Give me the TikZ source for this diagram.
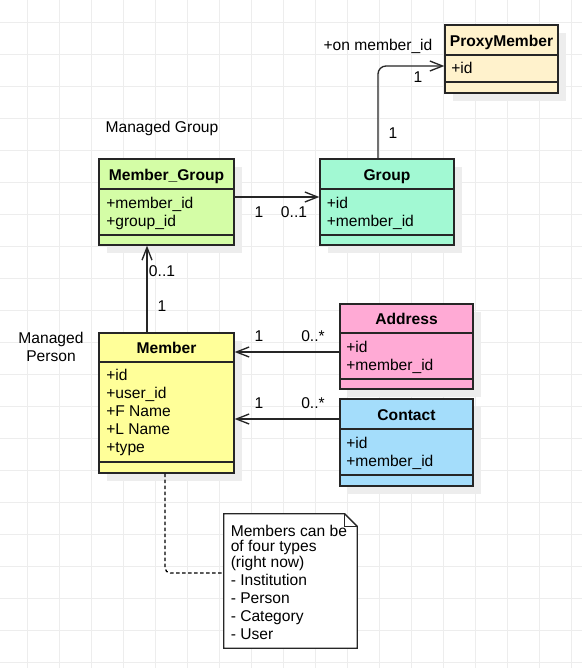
\documentclass[tikz,border=0pt]{standalone}
\usepackage{fontspec}
\setmainfont{Liberation Sans}
\usetikzlibrary{positioning,fit,arrows.meta,shadows}

\definecolor{proxycol}{HTML}{FFF2CC}
\definecolor{groupcol}{HTML}{A2F9D3}
\definecolor{mgroupcol}{HTML}{D4FDA6}
\definecolor{membercol}{HTML}{FFFF99}
\definecolor{addrcol}{HTML}{FFAAD5}
\definecolor{contactcol}{HTML}{A4DDFB}
\definecolor{gridcol}{HTML}{EDEDED}

\begin{document}
\begin{tikzpicture}[x=0.75pt, y=-0.75pt, font=\fontsize{11.7}{13.5}\selectfont,
  cls/.style={draw=black!85,line width=1pt,inner sep=0pt,drop shadow={shadow xshift=6pt,shadow yshift=-6pt,fill=black!7,opacity=1}},
  sep/.style={draw=black!85,line width=1pt},
  title/.style={anchor=base,inner sep=0pt,font=\fontsize{11.7}{13.5}\selectfont\bfseries},
  attrs/.style={anchor=north west,align=left,inner sep=0pt},
  lbl/.style={anchor=base,inner sep=0pt},
  assoc/.style={draw=black!85,line width=1pt,-{Straight Barb[length=9.5pt,width=7.5pt]}},
  gridline/.style={draw=gridcol,line width=0.75pt}]
              \useasboundingbox (0,0) rectangle (582,668);
              \fill[white] (0,0) rectangle (582,668);
              \foreach \x in {27,59,...,571} \draw[gridline] (\x,0) -- (\x,668);
              \foreach \y in {22,54,...,662} \draw[gridline] (0,\y) -- (582,\y);

              % classes
              \node[cls,fill=proxycol,fit={(445,25) (558,93)}] (proxy) {};
              \draw[sep] (proxy.west |- 0,55) -- (proxy.east |- 0,55);
              \draw[sep] (proxy.west |- 0,82) -- (proxy.east |- 0,82);
              \node[title] (proxyT) at (501.5,46) {ProxyMember};
              \node[attrs] (proxyA) at (451,61) {\strut+id};

              \node[cls,fill=groupcol,fit={(320,159) (454,245)}] (group) {};
              \draw[sep] (group.west |- 0,189) -- (group.east |- 0,189);
              \draw[sep] (group.west |- 0,235) -- (group.east |- 0,235);
              \node[title] (groupT) at (387,180.5) {Group};
              \node[attrs] (groupA) at (326.5,195.5) {\strut+id\\+member\_id};

              \node[cls,fill=mgroupcol,fit={(99,159) (234,245)}] (mgroup) {};
              \draw[sep] (mgroup.west |- 0,189) -- (mgroup.east |- 0,189);
              \draw[sep] (mgroup.west |- 0,235) -- (mgroup.east |- 0,235);
              \node[title] (mgroupT) at (166.5,180.5) {Member\_Group};
              \node[attrs] (mgroupA) at (106,196) {\strut+member\_id\\+group\_id};

              \node[cls,fill=membercol,fit={(99,333) (234,473)}] (member) {};
              \draw[sep] (member.west |- 0,362) -- (member.east |- 0,362);
              \draw[sep] (member.west |- 0,462) -- (member.east |- 0,462);
              \node[title] (memberT) at (166.5,353) {Member};
              \node[attrs] (memberA) at (106,368) {\strut+id\\+user\_id\\+F Name\\+L Name\\+type};

              \node[cls,fill=addrcol,fit={(340,304) (473,389)}] (address) {};
              \draw[sep] (address.west |- 0,333) -- (address.east |- 0,333);
              \draw[sep] (address.west |- 0,379) -- (address.east |- 0,379);
              \node[title] (addressT) at (406.5,324.5) {Address};
              \node[attrs] (addressA) at (346,339.5) {\strut+id\\+member\_id};

              \node[cls,fill=contactcol,fit={(340,399) (473,486)}] (contact) {};
              \draw[sep] (contact.west |- 0,429) -- (contact.east |- 0,429);
              \draw[sep] (contact.west |- 0,475) -- (contact.east |- 0,475);
              \node[title] (contactT) at (406.5,420.5) {Contact};
              \node[attrs] (contactA) at (346,435.5) {\strut+id\\+member\_id};

              % note
              \node[fit={(224,514) (357,648)},inner sep=0pt] (note) {};
              \draw[sep,fill=white] (note.north west) -- ([xshift=-9.5pt]note.north east) -- ([yshift=-9.5pt]note.north east) -- (note.south east) -- (note.south west) -- cycle;
              \draw[sep] ([xshift=-9.5pt]note.north east) -- ([xshift=-9.5pt,yshift=-9.5pt]note.north east) -- ([yshift=-9.5pt]note.north east);
              \node[attrs,font={\fontsize{11.7}{11.5}\selectfont\lineskiplimit=-5pt\relax}] (noteT) at (230.5,525) {\strut Members can be\\of four types\\(right now)\\[2pt]- Institution\\[2pt]- Person\\[2pt]- Category\\[2pt]- User};

              % connectors
              \coordinate (gp) at (378,66);
              \draw[assoc,rounded corners=6pt] (group.north -| gp) |- (proxy.west |- gp);
              \draw[assoc] (mgroup.east |- 0,197) -- (group.west |- 0,197);
              \draw[assoc] (member.north -| 147,0) -- (mgroup.south -| 147,0);
              \draw[assoc] (address.west |- 0,352) -- (member.east |- 0,352);
              \draw[assoc] (contact.west |- 0,419) -- (member.east |- 0,419);
              \coordinate (nc) at (165,573);
              \draw[draw=black,line width=1pt,dash pattern=on 2.5pt off 2pt,rounded corners=4pt] (member.south -| nc) |- (note.west |- nc);

              % labels
              \node[lbl] (onL) at (378,50.5) {+on member\_id};
              \node[lbl] (gpA) at (418,82.5) {1};
              \node[lbl] (gpB) at (393,138.5) {1};
              \node[lbl] (mgL) at (162,132.5) {Managed Group};
              \node[lbl] (mgA) at (259,217.5) {1};
              \node[lbl] (mgB) at (294,217.5) {0..1};
              \node[lbl] (mmA) at (162,276.5) {0..1};
              \node[lbl] (mmB) at (162,311.5) {1};
              \node[anchor=north,align=center,inner sep=0pt] (mpL) at (51,331) {\strut Managed\\Person};
              \node[lbl] (adA) at (259,341.5) {1};
              \node[lbl] (adB) at (313,341.5) {0..*};
              \node[lbl] (coA) at (259,408.5) {1};
              \node[lbl] (coB) at (313,408.5) {0..*};
            \end{tikzpicture}
\end{document}
